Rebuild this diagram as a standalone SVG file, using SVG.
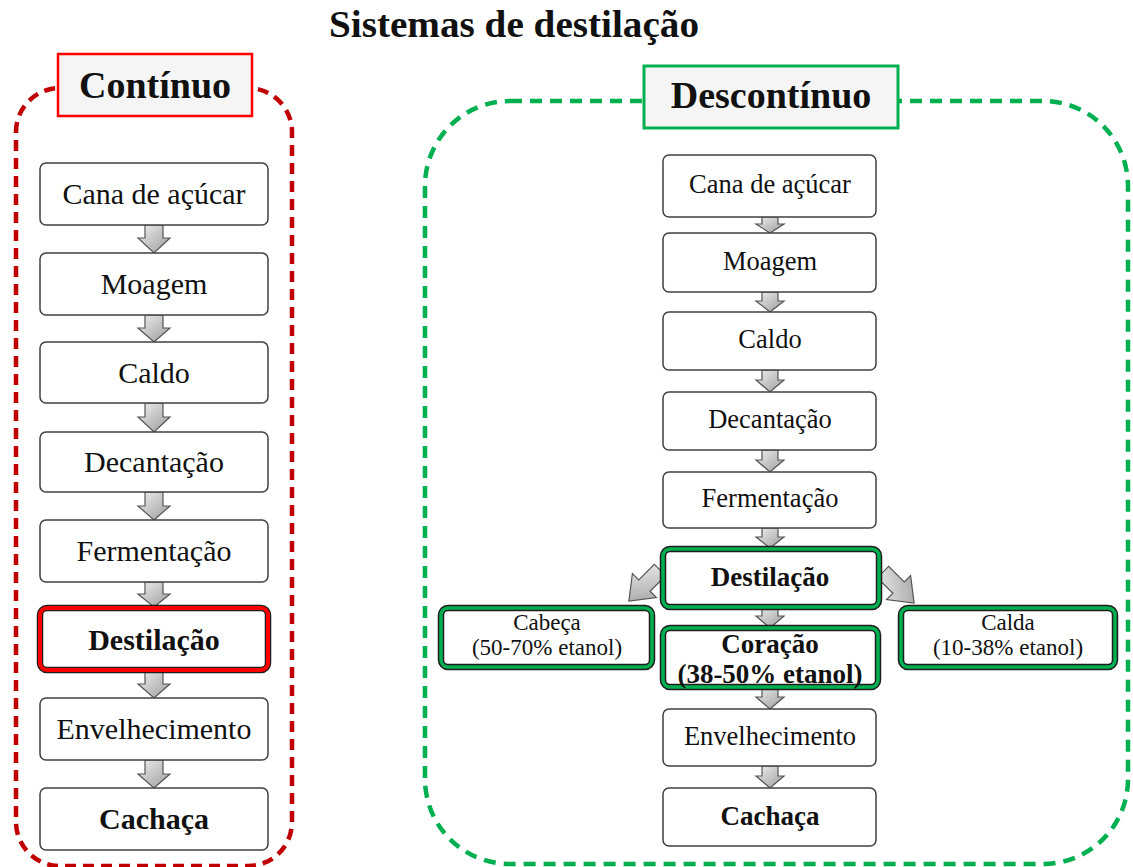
<svg xmlns="http://www.w3.org/2000/svg" width="1133" height="867" viewBox="0 0 1133 867">
<defs>
<linearGradient id="ag" x1="0" y1="0" x2="1" y2="1">
<stop offset="0" stop-color="#f0f0f0"/>
<stop offset="1" stop-color="#9a9a9a"/>
</linearGradient>
<style>
.t{font-family:"Liberation Serif","Times New Roman",serif;fill:#111;text-anchor:middle}
.b{font-weight:bold}
.box{fill:#fff;stroke:#404040;stroke-width:1.5}
.arr{fill:url(#ag);stroke:#555;stroke-width:1.2;stroke-linejoin:miter}
.dk{fill:#fff;stroke:#1e1e1e;stroke-width:6.5}
.gr{fill:none;stroke:#00b050;stroke-width:3.5}
.rd{fill:none;stroke:#ff0000;stroke-width:4}
</style>
</defs>
<rect width="1133" height="867" fill="#fff"/>

<text class="t b" x="514" y="37" font-size="38" textLength="370" lengthAdjust="spacingAndGlyphs">Sistemas de destilação</text>

<g id="container-continuo">
<rect x="16" y="88" width="276" height="778" rx="44" fill="none" stroke="#c00000" stroke-width="4.5" stroke-dasharray="11 7"/>
</g>
<g id="container-descontinuo">
<rect x="425" y="101" width="703" height="763" rx="85" fill="none" stroke="#00b050" stroke-width="4.5" stroke-dasharray="12 8"/>
</g>

<g id="label-continuo">
<rect x="58" y="54" width="194" height="62" fill="#f5f5f5" stroke="#ff0000" stroke-width="2.5"/>
<text class="t b" x="155" y="98" font-size="38">Contínuo</text>
</g>
<g id="label-descontinuo">
<rect x="644" y="66" width="254" height="62" fill="#f5f5f5" stroke="#00b050" stroke-width="3"/>
<text class="t b" x="771" y="108" font-size="38">Descontínuo</text>
</g>

<g id="connectors">
<path class="arr" d="M145,225 L163,225 L163,238 L170,238 L154,253 L138,238 L145,238 Z"/>
<path class="arr" d="M145,315 L163,315 L163,328 L170,328 L154,342 L138,328 L145,328 Z"/>
<path class="arr" d="M145,403 L163,403 L163,417 L170,417 L154,432 L138,417 L145,417 Z"/>
<path class="arr" d="M145,492 L163,492 L163,506 L170,506 L154,520 L138,506 L145,506 Z"/>
<path class="arr" d="M145,582 L163,582 L163,594 L170,594 L154,607 L138,594 L145,594 Z"/>
<path class="arr" d="M145,671 L163,671 L163,684 L170,684 L154,698 L138,684 L145,684 Z"/>
<path class="arr" d="M145,760 L163,760 L163,774 L170,774 L154,788 L138,774 L145,774 Z"/>

<path class="arr" d="M762,217 L778,217 L778,224 L784,224 L770,233 L756,224 L762,224 Z"/>
<path class="arr" d="M762,292 L778,292 L778,301 L784,301 L770,312 L756,301 L762,301 Z"/>
<path class="arr" d="M762,370 L778,370 L778,380 L784,380 L770,392 L756,380 L762,380 Z"/>
<path class="arr" d="M762,450 L778,450 L778,460 L784,460 L770,472 L756,460 L762,460 Z"/>
<path class="arr" d="M762,528 L778,528 L778,537 L784,537 L770,548 L756,537 L762,537 Z"/>
<path class="arr" d="M762,607 L778,607 L778,616 L784,616 L770,628 L756,616 L762,616 Z"/>
<path class="arr" d="M762,687 L778,687 L778,697 L784,697 L770,709 L756,697 L762,697 Z"/>
<path class="arr" d="M762,766 L778,766 L778,776 L784,776 L770,788 L756,776 L762,776 Z"/>

<path class="arr" transform="translate(660,570) rotate(45)" d="M-8,0 L8,0 L8,22 L17,22 L0,44 L-17,22 L-8,22 Z"/>
<path class="arr" transform="translate(883,572) rotate(-45)" d="M-8,0 L8,0 L8,22 L17,22 L0,44 L-17,22 L-8,22 Z"/>
</g>

<g id="c-cana"><rect class="box" x="40" y="163" width="228" height="62" rx="6"/><text class="t" x="154" y="204" font-size="30">Cana de açúcar</text></g>
<g id="c-moagem"><rect class="box" x="40" y="253" width="228" height="62" rx="6"/><text class="t" x="154" y="294" font-size="30">Moagem</text></g>
<g id="c-caldo"><rect class="box" x="40" y="342" width="228" height="61" rx="6"/><text class="t" x="154" y="383" font-size="30">Caldo</text></g>
<g id="c-decantacao"><rect class="box" x="40" y="432" width="228" height="60" rx="6"/><text class="t" x="154" y="472" font-size="30">Decantação</text></g>
<g id="c-fermentacao"><rect class="box" x="40" y="520" width="228" height="62" rx="6"/><text class="t" x="154" y="561" font-size="30">Fermentação</text></g>
<g id="c-destilacao"><rect class="dk" x="40" y="608" width="228" height="62" rx="7"/><rect class="rd" x="40" y="608" width="228" height="62" rx="7"/><text class="t b" x="154" y="650" font-size="30">Destilação</text></g>
<g id="c-envelhecimento"><rect class="box" x="40" y="698" width="228" height="62" rx="6"/><text class="t" x="154" y="739" font-size="30">Envelhecimento</text></g>
<g id="c-cachaca"><rect class="box" x="40" y="788" width="228" height="62" rx="6"/><text class="t b" x="154" y="829" font-size="30">Cachaça</text></g>

<g id="d-cana"><rect class="box" x="663" y="155" width="213" height="62" rx="6"/><text class="t" x="770" y="193" font-size="26.5">Cana de açúcar</text></g>
<g id="d-moagem"><rect class="box" x="663" y="233" width="213" height="59" rx="6"/><text class="t" x="770" y="270" font-size="26.5">Moagem</text></g>
<g id="d-caldo"><rect class="box" x="663" y="312" width="213" height="58" rx="6"/><text class="t" x="770" y="348" font-size="26.5">Caldo</text></g>
<g id="d-decantacao"><rect class="box" x="663" y="392" width="213" height="58" rx="6"/><text class="t" x="770" y="428" font-size="26.5">Decantação</text></g>
<g id="d-fermentacao"><rect class="box" x="663" y="472" width="213" height="56" rx="6"/><text class="t" x="770" y="507" font-size="26.5">Fermentação</text></g>
<g id="d-destilacao"><rect class="dk" x="663" y="549" width="216" height="58" rx="7"/><rect class="gr" x="663" y="549" width="216" height="58" rx="7"/><text class="t b" x="770" y="586" font-size="27">Destilação</text></g>
<g id="d-cabeca"><rect class="dk" x="441" y="608" width="211" height="59" rx="7"/><rect class="gr" x="441" y="608" width="211" height="59" rx="7"/><text class="t" x="547" y="630" font-size="23">Cabeça</text><text class="t" x="547" y="655" font-size="23">(50-70% etanol)</text></g>
<g id="d-calda"><rect class="dk" x="901" y="608" width="214" height="59" rx="7"/><rect class="gr" x="901" y="608" width="214" height="59" rx="7"/><text class="t" x="1008" y="630" font-size="23">Calda</text><text class="t" x="1008" y="655" font-size="23">(10-38% etanol)</text></g>
<g id="d-coracao"><rect class="dk" x="663" y="628" width="215" height="59" rx="7"/><rect class="gr" x="663" y="628" width="215" height="59" rx="7"/><text class="t b" x="770" y="653" font-size="27">Coração</text><text class="t b" x="770" y="683" font-size="27">(38-50% etanol)</text></g>
<g id="d-envelhecimento"><rect class="box" x="663" y="709" width="213" height="57" rx="6"/><text class="t" x="770" y="745" font-size="26.5">Envelhecimento</text></g>
<g id="d-cachaca"><rect class="box" x="663" y="788" width="213" height="58" rx="6"/><text class="t b" x="770" y="825" font-size="27">Cachaça</text></g>
</svg>
